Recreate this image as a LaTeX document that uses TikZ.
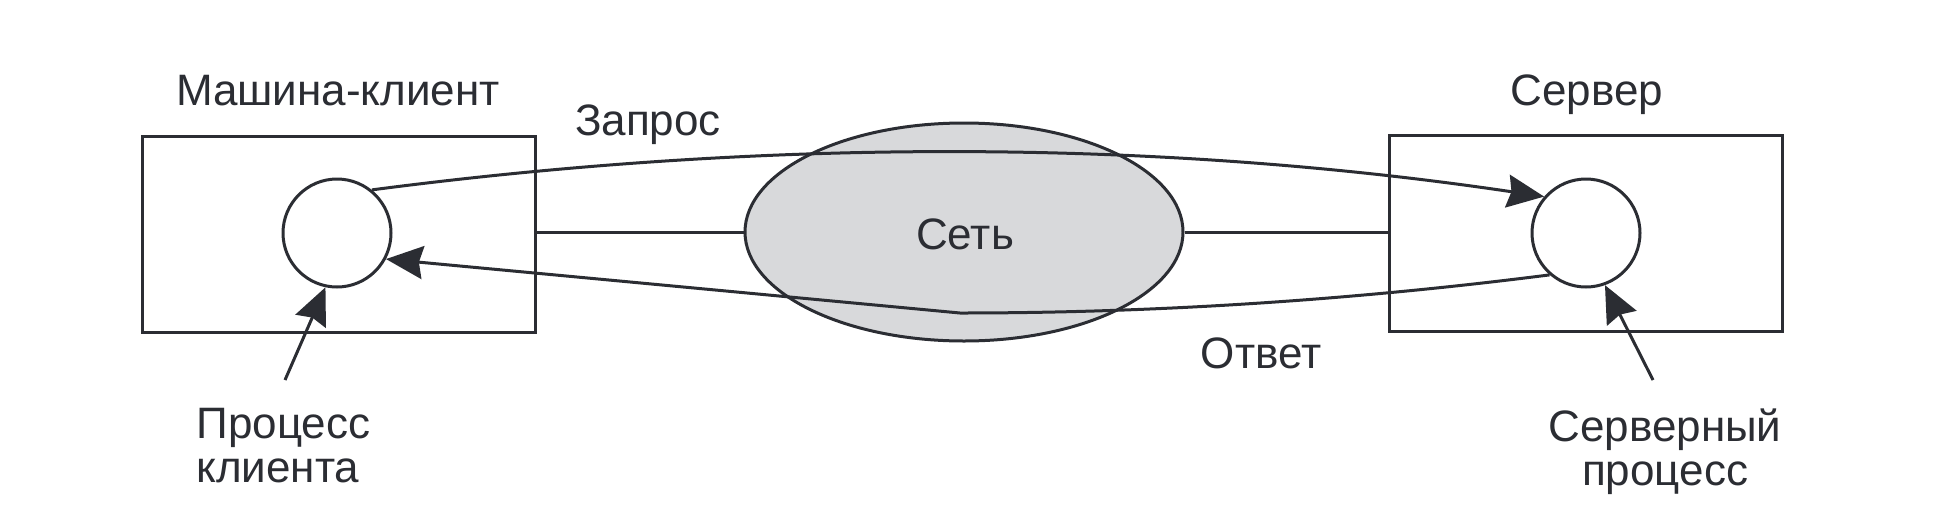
\documentclass[tikz,border=0pt]{standalone}
\usepackage{fontspec}
\setmainfont{Liberation Sans}
\usetikzlibrary{shapes.geometric,arrows.meta,calc}
\definecolor{ink}{HTML}{2B2D33}
\definecolor{netfill}{HTML}{D8D9DB}
\begin{document}
\begin{tikzpicture}[x=1pt,y=-1pt,line width=3pt,color=ink,
  hostbox/.style={draw,rectangle,minimum width=393pt,minimum height=196pt,inner sep=0pt},
  proc/.style={draw,circle,minimum size=108pt,inner sep=0pt,fill=white},
  lbl/.style={font=\fontsize{44}{44}\selectfont,inner sep=0pt,anchor=base},
  arr/.style={-{Stealth[length=37pt,width=33pt,inset=4pt]}}]
\useasboundingbox (0,0) rectangle (1949,531);
% network
\node[draw,ellipse,fill=netfill,minimum width=438pt,minimum height=218pt,inner sep=0pt] (net) at (964,232) {};
\node[lbl] (nettxt) at (965,249) {Сеть};
% hosts
\node[hostbox] (cbox) at (338.5,234) {};
\node[hostbox] (sbox) at (1586,233.5) {};
\node[proc] (cc) at (337,233) {};
\node[proc] (sc) at (1586,233) {};
% links
\draw (cbox.east |- net.west) -- (net.west);
\draw (net.east) -- (sbox.west |- net.east);
% request / response
\draw[arr] (cc.51) .. controls (764,138.5) and (1154,138.5) .. (sc.139);
\coordinate (mid) at (960,313);
\draw[arr] (sc.229) .. controls (1353,300) and (1157,313) .. (mid) -- (cc.-28);
% labels
\node[lbl] (lcli) at (338,105) {Машина-клиент};
\node[lbl] (lsrv) at (1587,105) {Сервер};
\node[lbl] (lreq) at (648,135) {Запрос};
\node[lbl] (lres) at (1261,368) {Ответ};
\node[lbl,align=left,anchor=base west] (lcp) at (195,482) {Процесс\\клиента};
\node[lbl,align=center] (lsp) at (1665,485) {Серверный\\процесс};
% pointers
\coordinate (pc) at (285,380);
\coordinate (ps) at (1653,380);
\draw[arr] (pc) -- (cc.-102);
\draw[arr] (ps) -- (sc.-70);
\end{tikzpicture}
\end{document}
